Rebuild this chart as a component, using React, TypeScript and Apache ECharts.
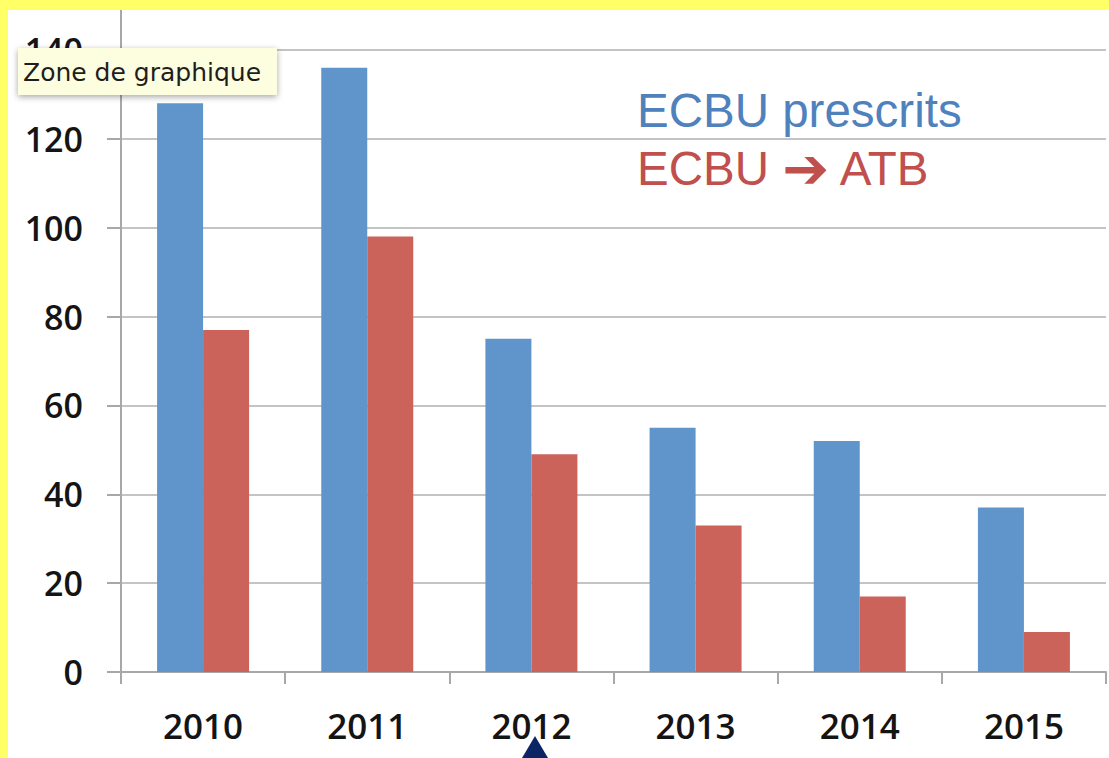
import React, { useEffect, useRef } from "react";
import * as echarts from "echarts";

const years = ["2010", "2011", "2012", "2013", "2014", "2015"];
const ecbuPrescrits = [128, 136, 75, 55, 52, 37];
const ecbuAtb = [77, 98, 49, 33, 17, 9];
const yTicks = { min: 0, max: 140, interval: 20 };

export default function App() {
  const ref = useRef<HTMLDivElement>(null);
  useEffect(() => {
    const chart = echarts.init(ref.current!, null, { renderer: "svg" });
    const labelFont = {
      fontFamily: "'Open Sans', 'Liberation Sans', sans-serif",
      fontWeight: 600,
      fontSize: 34,
      color: "#141414",
    };
    chart.setOption({
      animation: false,
      backgroundColor: "#ffffff",
      grid: { left: 121, right: 3, top: 50, bottom: 86 },
      xAxis: {
        type: "category",
        data: years,
        boundaryGap: true,
        axisLine: { show: true, lineStyle: { color: "#a8a8a8", width: 2 } },
        axisTick: { show: true, length: 12, lineStyle: { color: "#a8a8a8", width: 2 } },
        axisLabel: { ...labelFont, fontSize: 35, margin: 36 },
      },
      yAxis: {
        type: "value",
        min: yTicks.min,
        max: yTicks.max,
        interval: yTicks.interval,
        axisLine: { show: true, lineStyle: { color: "#a8a8a8", width: 2 } },
        axisTick: { show: true, length: 14, lineStyle: { color: "#a8a8a8", width: 2 } },
        splitLine: { show: true, lineStyle: { color: "#c4c4c4", width: 2 } },
        axisLabel: { ...labelFont, margin: 38 },
      },
      series: [
        {
          type: "bar",
          name: "ECBU prescrits",
          data: ecbuPrescrits,
          barWidth: 46,
          barGap: "0%",
          itemStyle: { color: "#6095cc" },
        },
        {
          type: "bar",
          name: "ECBU ➔ ATB",
          data: ecbuAtb,
          barWidth: 46,
          barGap: "0%",
          itemStyle: { color: "#cb635b" },
        },
      ],
      graphic: [
        { type: "rect", shape: { x: 0, y: 0, width: 1109, height: 10 }, style: { fill: "#ffff66" }, z: 100 },
        { type: "rect", shape: { x: 0, y: 0, width: 8, height: 758 }, style: { fill: "#ffff66" }, z: 100 },
        {
          type: "line",
          shape: { x1: 121, y1: 10, x2: 121, y2: 50 },
          style: { stroke: "#a8a8a8", lineWidth: 2 },
          z: 5,
        },
        {
          type: "text",
          x: 637,
          y: 110,
          style: {
            text: "ECBU prescrits",
            fill: "#4f81bd",
            fontSize: 47.5,
            fontFamily: "'Liberation Sans', Arial, sans-serif",
            verticalAlign: "middle",
          },
          z: 20,
        },
        {
          type: "text",
          x: 637,
          y: 168,
          style: {
            text: "ECBU {a|➔} ATB",
            fill: "#c0504d",
            fontSize: 47.5,
            fontFamily: "'Liberation Sans', 'DejaVu Sans', sans-serif",
            verticalAlign: "middle",
            rich: {
              a: {
                fill: "#c0504d",
                fontSize: 56,
                fontWeight: "bold",
                fontFamily: "'DejaVu Sans', sans-serif",
              },
            },
          },
          z: 20,
        },
        {
          type: "rect",
          shape: { x: 18, y: 48, width: 259, height: 47 },
          style: {
            fill: "#fdfddf",
            shadowBlur: 6,
            shadowColor: "rgba(0,0,0,0.35)",
            shadowOffsetY: 2,
          },
          z: 50,
        },
        {
          type: "text",
          x: 23,
          y: 72,
          style: {
            text: "Zone de graphique",
            fill: "#1e1e1e",
            fontSize: 25,
            fontFamily: "'DejaVu Sans', sans-serif",
            verticalAlign: "middle",
          },
          z: 51,
        },
        {
          type: "polygon",
          shape: { points: [[535, 736], [522, 758], [548, 758]] },
          style: { fill: "#0b2466" },
          z: 60,
        },
      ],
    });
    return () => chart.dispose();
  }, []);
  return (
    <div
      ref={ref}
      style={{ position: "absolute", left: 0, top: 0, width: 1109, height: 758, background: "#fff" }}
    />
  );
}
